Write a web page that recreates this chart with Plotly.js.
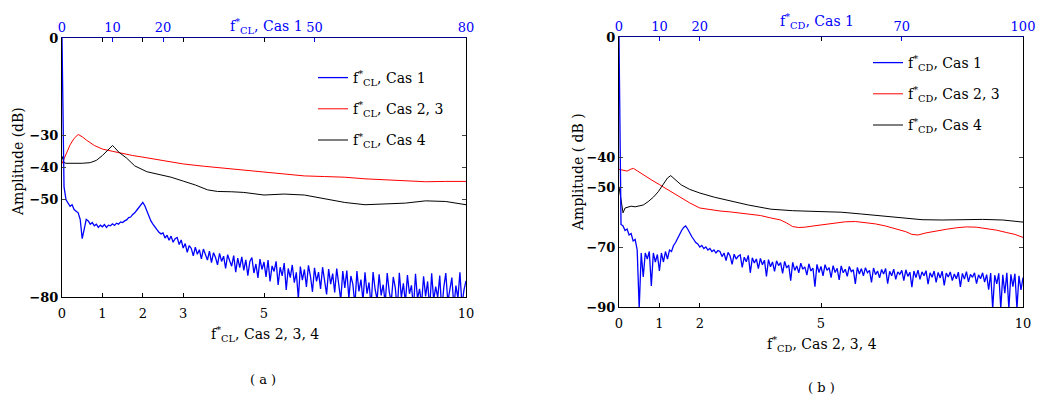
<!DOCTYPE html>
<html><head><meta charset="utf-8">
<script src="https://cdn.plot.ly/plotly-3.0.1.min.js"></script>
<style>html,body{margin:0;padding:0;background:#fff}#chart{width:1038px;height:396px}</style>
</head><body><div id="chart"></div>
<script>
// ---------- Panel (a): lift coefficient spectra ----------
// Cas 1 (top axis, 0..80), evenly sampled over its range
const cas1LeftRange = [0, 80];
const cas1LeftY = [
 0, -46, -50, -51, -52, -51.5, -53, -53.5, -54, -56,
 -62, -59, -56, -56.5, -57.5, -57, -58, -57.5, -58.5, -57.8,
 -58.3, -57.6, -58.5, -57.8, -58, -57.4, -57.9, -57.2, -57.5, -56.8,
 -57, -56.5, -56.2, -55.5, -55.3, -54.5, -54, -53.2, -52.5, -51.5,
 -50.8, -51.8, -53.5, -55, -56.5, -57.5, -58.5, -59.2, -60, -60.5,
 -60.2, -61.8, -60.9, -62.5, -61.2, -63.1, -62.0, -61.6, -63.8, -62.4,
 -64.9, -63.5, -66.2, -64.1, -65.0, -67.3, -64.6, -66.8, -65.4, -68.2,
 -65.2, -66.9, -68.6, -65.8, -69.4, -66.3, -67.8, -70.1, -66.5, -69.0,
 -67.4, -71.2, -66.9, -68.8, -70.5, -67.2, -72.3, -68.0, -70.9, -67.6,
 -71.8, -68.5, -73.4, -69.0, -67.8, -72.6, -69.8, -74.1, -68.3, -71.5,
 -69.2, -73.8, -68.6, -75.2, -70.4, -72.1, -69.0, -76.3, -70.8, -73.5,
 -69.5, -77.8, -71.2, -74.0, -70.1, -75.6, -72.4, -80.5, -70.6, -74.8,
 -71.5, -76.9, -70.2, -73.6, -78.4, -71.0, -75.2, -72.3, -77.5, -70.8,
 -74.6, -79.2, -71.4, -76.0, -72.8, -78.6, -71.2, -75.3, -81.0, -72.0,
 -77.2, -71.8, -80.4, -73.5, -76.1, -82.5, -72.0, -78.3, -74.6, -81.2,
 -72.4, -79.0, -75.5, -83.0, -72.3, -77.6, -80.8, -73.0, -79.5, -76.2,
 -82.0, -72.6, -78.4, -81.5, -73.8, -77.2, -84.0, -72.5, -80.2, -75.8,
 -81.8, -73.2, -79.0, -76.4, -83.5, -72.8, -80.6, -77.5, -82.2, -73.6,
 -79.8, -75.2, -83.8, -72.7, -81.0, -76.8, -80.2, -73.4, -84.5, -77.0,
 -72.6, -81.5, -78.2, -74.0, -83.2, -76.5, -80.4, -72.4, -82.6, -77.8,
 -75.0
];
const cas23LeftX = [0, 0.1, 0.2, 0.3, 0.4, 0.5, 0.6, 0.8, 1.0, 1.25, 1.5, 1.75, 2.0, 2.5, 3.0, 3.5, 4.0, 4.5, 5.0, 5.5, 6.0, 6.5, 7.0, 7.5, 8.0, 8.5, 9.0, 9.5, 10];
const cas23LeftY = [-38.8, -36, -33, -31, -29.8, -30.5, -31.5, -33.2, -34.3, -35, -35.7, -36.3, -36.8, -37.8, -38.9, -39.6, -40.2, -40.8, -41.3, -42, -42.6, -42.8, -43, -43.5, -43.8, -44.2, -44.4, -44.3, -44.3];
const cas4LeftX = [0, 0.05, 0.1, 0.3, 0.5, 0.7, 0.85, 1.0, 1.1, 1.2, 1.25, 1.3, 1.4, 1.6, 1.8, 2.1, 2.4, 2.7, 3.0, 3.3, 3.6, 3.85, 4.2, 4.5, 5.0, 5.5, 6.0, 6.5, 7.0, 7.5, 8.0, 8.5, 9.0, 9.5, 10];
const cas4LeftY = [-36.5, -38.5, -38.7, -38.8, -38.7, -38.5, -37.8, -36.3, -35, -33.6, -33.2, -33.8, -35.2, -37.1, -39.5, -41.3, -42.2, -43, -44.2, -45.4, -46.9, -47.4, -47.5, -47.7, -48.5, -48.2, -48.5, -49.7, -50.8, -51.5, -51.3, -51, -50.3, -50.5, -51.5];
const leftBottomTicks = [0, 1, 2, 3, 5, 10];
const leftTopTicks = [0, 10, 20, 50, 80];
const leftYTicks = [0, -30, -40, -50, -80];

// ---------- Panel (b): drag coefficient spectra ----------
const cas1RightRange = [0, 100];
const cas1RightY = [
 0, -62.5, -63, -64.5, -64, -66, -65.5, -68, -67.5, -71,
 -90.5, -72, -80, -72, -74, -71.5, -83, -72, -75, -72.5,
 -78, -72, -75, -71.5, -74, -71, -71.5, -69.5, -68.5, -67,
 -66, -64.5, -63.5, -63, -64, -65.5, -66.5, -67.5, -68.5, -69,
 -70, -69.5, -70.5, -70, -71, -70.5, -71.5, -71, -72, -71.2,
 -71.5, -73.2, -72.0, -74.5, -71.8, -73.0, -75.8, -72.4, -74.0, -73.1,
 -72.6, -76.8, -73.4, -74.9, -72.8, -78.6, -73.6, -75.3, -74.0, -77.2,
 -73.8, -75.9, -74.4, -79.8, -74.2, -76.6, -75.0, -78.1, -74.6, -76.2,
 -75.2, -78.8, -74.8, -77.0, -76.0, -81.2, -75.1, -77.8, -76.3, -78.6,
 -75.4, -77.4, -76.6, -79.4, -75.6, -78.0, -77.0, -83.2, -75.8, -78.5,
 -76.5, -79.6, -75.9, -77.8, -76.9, -80.2, -76.2, -78.5, -77.1, -81.0,
 -76.3, -78.6, -77.4, -79.8, -76.5, -78.2, -77.6, -82.3, -76.8, -79.0,
 -77.2, -79.6, -76.9, -78.6, -77.8, -81.8, -77.0, -79.2, -78.0, -80.3,
 -77.5, -79.0, -77.2, -82.2, -78.1, -79.6, -77.4, -80.8, -78.3, -79.1,
 -77.8, -81.2, -77.6, -79.8, -78.4, -83.4, -78.0, -80.2, -77.7, -80.8,
 -78.3, -79.6, -77.9, -82.4, -78.6, -80.1, -78.0, -81.8, -78.5, -80.3,
 -78.1, -82.8, -78.7, -80.0, -78.3, -81.2, -79.0, -80.6, -78.4, -83.3,
 -78.8, -80.7, -78.2, -81.6, -79.1, -80.1, -78.6, -82.2, -79.3, -80.6,
 -78.6, -81.7, -79.2, -84.2, -78.7, -90.5, -79.4, -82.3, -78.8, -90.5,
 -79.3, -85.4, -78.6, -90.5, -79.1, -83.2, -78.9, -90.5, -79.6, -84.3,
 -80.2
];
const cas23RightX = [0, 0.1, 0.2, 0.3, 0.36, 0.45, 0.6, 0.8, 1.0, 1.25, 1.5, 1.75, 2.0, 2.25, 2.5, 2.75, 3.0, 3.25, 3.5, 3.75, 4.0, 4.15, 4.3, 4.45, 4.6, 4.8, 5.1, 5.35, 5.6, 5.85, 6.1, 6.35, 6.6, 6.85, 7.1, 7.25, 7.4, 7.6, 7.85, 8.1, 8.35, 8.6, 8.85, 9.1, 9.35, 9.6, 9.8, 10];
const cas23RightY = [-44.1, -44.5, -44.7, -44, -43.8, -44.6, -46, -47.6, -49.2, -51.2, -53.2, -55.3, -57, -57.6, -58, -58.3, -58.7, -59, -59.5, -60.3, -61, -62, -63.2, -63.5, -63.4, -63, -62.4, -62, -61.6, -61.5, -61.9, -62.3, -63, -64, -64.9, -65.8, -66, -65.3, -64.6, -64.1, -63.6, -63.3, -63.4, -63.9, -64.4, -65.2, -65.8, -66.8];
const cas4RightX = [0, 0.04, 0.1, 0.15, 0.2, 0.3, 0.4, 0.5, 0.6, 0.72, 0.85, 0.97, 1.05, 1.13, 1.2, 1.28, 1.4, 1.54, 1.75, 2.0, 2.36, 2.8, 3.2, 3.76, 4.3, 5.0, 5.5, 6.0, 6.5, 7.0, 7.5, 8.0, 8.5, 9.0, 9.5, 10];
const cas4RightY = [-49.9, -53, -58.6, -57, -56.8, -56.4, -56.6, -56.3, -56, -54.9, -53.4, -51.6, -50, -48.2, -47, -46.2, -47.5, -49.3, -50.8, -52, -53.4, -54.8, -56, -57.4, -57.9, -58.2, -58.4, -59, -59.6, -60.4, -60.9, -61, -60.8, -60.8, -61, -61.7];
const rightBottomTicks = [0, 1, 2, 5, 10];
const rightTopTicks = [0, 10, 20, 70, 100];
const rightYTicks = [0, -40, -50, -70, -90];

// ---------- helpers ----------
const W = 1038, H = 396;
const FONT = 'DejaVu Serif, Liberation Serif, serif';
const BLUE = '#0000ff', RED = '#ff0000', BLACK = '#000000';
const fx = p => p / W, fy = p => 1 - p / H;
function grid(range, n) { const a = []; for (let i = 0; i < n; i++) a.push(range[0] + i * (range[1] - range[0]) / (n - 1)); return a; }

const traces = [
  {x: grid(cas1LeftRange, cas1LeftY.length), y: cas1LeftY, xaxis: 'x2', yaxis: 'y', type: 'scatter', mode: 'lines',
   line: {color: BLUE, width: 1.3}, name: 'f<sup>*</sup><sub>CL</sub>, Cas 1', legend: 'legend', legendgroup: 'a1'},
  {x: cas23LeftX, y: cas23LeftY, xaxis: 'x', yaxis: 'y', type: 'scatter', mode: 'lines',
   line: {color: RED, width: 1}, name: 'f<sup>*</sup><sub>CL</sub>, Cas 2, 3', legend: 'legend', legendgroup: 'a2'},
  {x: cas4LeftX, y: cas4LeftY, xaxis: 'x', yaxis: 'y', type: 'scatter', mode: 'lines',
   line: {color: BLACK, width: 1}, name: 'f<sup>*</sup><sub>CL</sub>, Cas 4', legend: 'legend', legendgroup: 'a3'},
  {x: grid(cas1RightRange, cas1RightY.length), y: cas1RightY, xaxis: 'x4', yaxis: 'y2', type: 'scatter', mode: 'lines',
   line: {color: BLUE, width: 1.3}, name: 'f<sup>*</sup><sub>CD</sub>, Cas 1', legend: 'legend2', legendgroup: 'b1'},
  {x: cas23RightX, y: cas23RightY, xaxis: 'x3', yaxis: 'y2', type: 'scatter', mode: 'lines',
   line: {color: RED, width: 1}, name: 'f<sup>*</sup><sub>CD</sub>, Cas 2, 3', legend: 'legend2', legendgroup: 'b2'},
  {x: cas4RightX, y: cas4RightY, xaxis: 'x3', yaxis: 'y2', type: 'scatter', mode: 'lines',
   line: {color: BLACK, width: 1}, name: 'f<sup>*</sup><sub>CD</sub>, Cas 4', legend: 'legend2', legendgroup: 'b3'}
];

const baseAx = {showgrid: false, zeroline: false, showline: true, linewidth: 1, ticks: 'inside', ticklen: 4, tickwidth: 1, fixedrange: true};
const LD = [fx(62), fx(466)], RD = [fx(619), fx(1023)];

const layout = {
  width: W, height: H, margin: {l: 0, r: 0, t: 0, b: 0},
  paper_bgcolor: '#fff', plot_bgcolor: '#fff',
  font: {family: FONT, size: 13, color: '#000'},
  showlegend: true,
  xaxis: Object.assign({}, baseAx, {domain: LD, anchor: 'y', range: [0, 10], tickmode: 'array', tickvals: leftBottomTicks,
    linecolor: BLACK, tickcolor: BLACK, mirror: 'ticks', ticklabelstandoff: 4, tickfont: {size: 13}}),
  xaxis2: Object.assign({}, baseAx, {domain: LD, anchor: 'y', overlaying: 'x', side: 'top', range: cas1LeftRange, tickmode: 'array', tickvals: leftTopTicks,
    linecolor: '#00008b', tickcolor: BLUE, tickfont: {size: 13, color: BLUE}}),
  yaxis: Object.assign({}, baseAx, {domain: [fy(297), fy(38)], anchor: 'x', range: [-80, 0], tickmode: 'array', tickvals: leftYTicks,
    linecolor: BLACK, mirror: 'ticks', tickfont: {size: 13, weight: 'bold'}}),
  xaxis3: Object.assign({}, baseAx, {domain: RD, anchor: 'y2', range: [0, 10], tickmode: 'array', tickvals: rightBottomTicks,
    linecolor: BLACK, tickcolor: BLACK, mirror: 'ticks', ticklabelstandoff: 4, tickfont: {size: 13}}),
  xaxis4: Object.assign({}, baseAx, {domain: RD, anchor: 'y2', overlaying: 'x3', side: 'top', range: cas1RightRange, tickmode: 'array', tickvals: rightTopTicks,
    linecolor: '#00008b', tickcolor: BLUE, tickfont: {size: 13, color: BLUE}}),
  yaxis2: Object.assign({}, baseAx, {domain: [fy(307), fy(37)], anchor: 'x3', range: [-90, 0], tickmode: 'array', tickvals: rightYTicks,
    linecolor: BLACK, mirror: 'ticks', tickfont: {size: 13, weight: 'bold'}}),
  legend: {x: fx(313), xanchor: 'left', y: fy(62), yanchor: 'top', bgcolor: 'rgba(0,0,0,0)', borderwidth: 0,
    font: {size: 14, family: FONT}, tracegroupgap: 10, itemclick: false},
  legend2: {x: fx(868), xanchor: 'left', y: fy(47), yanchor: 'top', bgcolor: 'rgba(0,0,0,0)', borderwidth: 0,
    font: {size: 14, family: FONT}, tracegroupgap: 10, itemclick: false},
  annotations: [
    {text: 'f<sup>*</sup><sub>CL</sub>, Cas 1', x: fx(266), y: fy(26), xref: 'paper', yref: 'paper', showarrow: false, xanchor: 'center', yanchor: 'middle', font: {size: 14, color: BLUE}},
    {text: 'f<sup>*</sup><sub>CD</sub>, Cas 1', x: fx(817), y: fy(21), xref: 'paper', yref: 'paper', showarrow: false, xanchor: 'center', yanchor: 'middle', font: {size: 14, color: BLUE}},
    {text: 'f<sup>*</sup><sub>CL</sub>, Cas 2, 3, 4', x: fx(265), y: fy(334), xref: 'paper', yref: 'paper', showarrow: false, xanchor: 'center', yanchor: 'middle', font: {size: 14}},
    {text: 'f<sup>*</sup><sub>CD</sub>, Cas 2, 3, 4', x: fx(822), y: fy(344), xref: 'paper', yref: 'paper', showarrow: false, xanchor: 'center', yanchor: 'middle', font: {size: 14}},
    {text: '( a )', x: fx(263), y: fy(379), xref: 'paper', yref: 'paper', showarrow: false, xanchor: 'center', yanchor: 'middle', font: {size: 13}},
    {text: '( b )', x: fx(821), y: fy(387), xref: 'paper', yref: 'paper', showarrow: false, xanchor: 'center', yanchor: 'middle', font: {size: 13}},
    {text: 'Amplitude (dB)', x: fx(18), y: fy(162), xref: 'paper', yref: 'paper', showarrow: false, xanchor: 'center', yanchor: 'middle', textangle: -90, font: {size: 14}},
    {text: 'Amplitude ( dB )', x: fx(578), y: fy(172), xref: 'paper', yref: 'paper', showarrow: false, xanchor: 'center', yanchor: 'middle', textangle: -90, font: {size: 14}}
  ]
};

Plotly.newPlot('chart', traces, layout, {staticPlot: true, displayModeBar: false});
</script></body></html>
